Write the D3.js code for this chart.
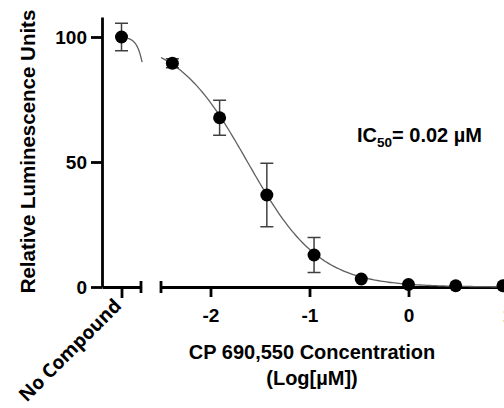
<!DOCTYPE html>
<html>
<head>
<meta charset="utf-8">
<script src="https://cdn.jsdelivr.net/npm/d3@7"></script>
<style>
body { margin: 0; background: #fff; }
text { font-family: "Liberation Sans", Arial, sans-serif; font-weight: bold; fill: #000; }
</style>
</head>
<body>
<div id="chart"></div>
<script>
var width = 504;
var height = 408;

// dose response data (log uM)
var logConc = [-2.385, -1.908, -1.431, -0.954, -0.477, 0, 0.477, 0.954];
var response = [89.5, 67.7, 36.8, 12.8, 3.2, 1.0, 0.5, 0.5];
var errors = [1.8, 7.0, 12.7, 7.0, 0, 0, 0, 0];

// control
var ctrlLabel = "No Compound";
var ctrlLog = -4;
var ctrlValue = 100;
var ctrlError = 5.5;

var xTicks = [-2, -1, 0, 1];
var yTicks = [0, 50, 100];

// fitted 4PL curve
var fitTop = 100, fitBottom = 0, fitLogIC50 = -1.626, fitHill = 1.2;

var svg = d3.select("#chart").append("svg").attr("width", width).attr("height", height);

var y = d3.scaleLinear().domain([0, 108]).range([287, 17]);
var xMain = d3.scaleLinear().domain([-2.5, 1]).range([161, 507.5]);
var xLeft = d3.scaleLinear().domain([-5.5, -2.5]).range([102, 141]);

function fit(x) {
    return fitBottom + (fitTop - fitBottom) / (1 + Math.pow(10, fitHill * (x - fitLogIC50)));
}

var axisW = 2.8;

// y axis
var gy = svg.append("g").attr("transform", "translate(" + xLeft(-5.5) + ",0)")
    .call(d3.axisLeft(y).tickValues(yTicks).tickSize(11).tickSizeOuter(0).tickPadding(4));
gy.selectAll("path, line").attr("stroke", "#000").attr("stroke-width", axisW);
gy.selectAll("text").style("font-size", "19px");

// left segment (control)
var gl = svg.append("g").attr("transform", "translate(0," + y(0) + ")")
    .call(d3.axisBottom(xLeft).tickValues([ctrlLog]).tickFormat("").tickSize(11).tickSizeOuter(0));
gl.selectAll("path, line").attr("stroke", "#000").attr("stroke-width", axisW);
gl.append("line").attr("x1", xLeft(-2.5)).attr("x2", xLeft(-2.5)).attr("y1", -6).attr("y2", 6)
    .attr("stroke", "#000").attr("stroke-width", axisW);

// main segment
var gx = svg.append("g").attr("transform", "translate(0," + y(0) + ")")
    .call(d3.axisBottom(xMain).tickValues(xTicks).tickFormat(d3.format("d")).tickSize(10).tickSizeOuter(0).tickPadding(12));
gx.selectAll("path, line").attr("stroke", "#000").attr("stroke-width", axisW);
gx.selectAll("text").style("font-size", "19px").text(function(d) { return d < 0 ? "-" + Math.abs(d) : d; });
gx.append("line").attr("x1", xMain(-2.5)).attr("x2", xMain(-2.5)).attr("y1", -6).attr("y2", 6)
    .attr("stroke", "#000").attr("stroke-width", axisW);

// control label
svg.append("text")
    .attr("transform", "translate(" + (xLeft(ctrlLog) + 1) + "," + (y(0) + 20) + ") rotate(-45)")
    .attr("text-anchor", "end")
    .style("font-family", "'Open Sans', sans-serif")
    .style("font-size", "19px")
    .text(ctrlLabel);

// curve
var line = d3.line().x(function(d) { return d[0]; }).y(function(d) { return d[1]; });
var leftPts = d3.range(-3.5, -2.4, 0.02).map(function(v) { return [xLeft(v), y(fit(v))]; });
var mainPts = d3.range(-2.5, 1.1, 0.02).map(function(v) { return [xMain(v), y(fit(v))]; });
[leftPts, mainPts].forEach(function(p) {
    svg.append("path").attr("d", line(p)).attr("fill", "none")
        .attr("stroke", "#606060").attr("stroke-width", 1.3);
});

// error bars
var pts = logConc.map(function(v, i) { return { x: xMain(v), v: response[i], e: errors[i] }; });
pts.push({ x: xLeft(ctrlLog), v: ctrlValue, e: ctrlError });

var eb = svg.append("g").attr("stroke", "#404040").attr("stroke-width", 1.5);
pts.filter(function(d) { return d.e > 0; }).forEach(function(d) {
    eb.append("line").attr("x1", d.x).attr("x2", d.x).attr("y1", y(d.v - d.e)).attr("y2", y(d.v + d.e));
    eb.append("line").attr("x1", d.x - 6.5).attr("x2", d.x + 6.5).attr("y1", y(d.v - d.e)).attr("y2", y(d.v - d.e));
    eb.append("line").attr("x1", d.x - 6.5).attr("x2", d.x + 6.5).attr("y1", y(d.v + d.e)).attr("y2", y(d.v + d.e));
});

svg.selectAll("circle.pt").data(pts).enter().append("circle")
    .attr("class", "pt")
    .attr("cx", function(d) { return d.x; })
    .attr("cy", function(d) { return y(d.v); })
    .attr("r", 6.5)
    .attr("fill", "#000");

// titles
svg.append("text")
    .attr("transform", "translate(35,151.5) rotate(-90)")
    .attr("text-anchor", "middle")
    .style("font-size", "20.5px")
    .text("Relative Luminescence Units");

var xt = svg.append("text").attr("text-anchor", "middle").style("font-size", "20px");
xt.append("tspan").attr("x", 312).attr("y", 359).text("CP 690,550 Concentration");
xt.append("tspan").attr("x", 312).attr("y", 385).text("(Log[\u00b5M])");

var ic = svg.append("text").attr("x", 357).attr("y", 142).style("font-size", "20px");
ic.append("tspan").text("IC");
ic.append("tspan").attr("dy", 5).style("font-size", "13.5px").text("50");
ic.append("tspan").attr("dy", -5).text("= 0.02 \u00b5M");
</script>
</body>
</html>
